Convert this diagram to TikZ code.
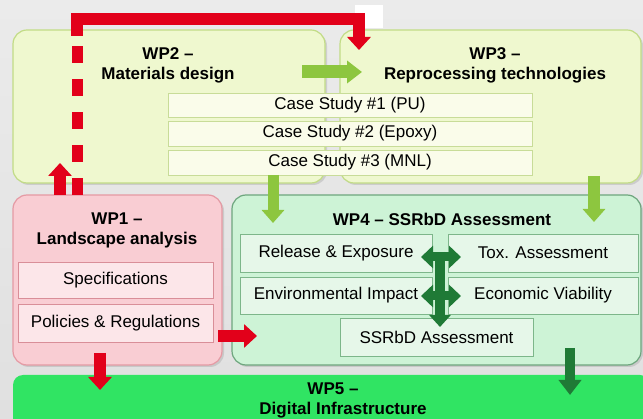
\documentclass[tikz,border=0pt]{standalone}
\usepackage{fontspec}
\setmainfont{Liberation Sans}
\usetikzlibrary{arrows.meta,shadows}
\definecolor{bgtop}{HTML}{EBEBEB}
\definecolor{bgbot}{HTML}{E0E0E0}
\definecolor{ygfill}{HTML}{EFF8CF}
\definecolor{ygdraw}{HTML}{C2DC86}
\definecolor{csfill}{HTML}{FAFCEA}
\definecolor{csdraw}{HTML}{C8DC98}
\definecolor{lgarrow}{HTML}{8DC63F}
\definecolor{redarrow}{HTML}{E2001A}
\definecolor{pkfill}{HTML}{F9CDD3}
\definecolor{pkdraw}{HTML}{E59AA4}
\definecolor{pkinner}{HTML}{FCE6E9}
\definecolor{pkinnerdraw}{HTML}{D98E98}
\definecolor{mtfill}{HTML}{CDF3D6}
\definecolor{mtdraw}{HTML}{6EA67E}
\definecolor{mtinner}{HTML}{E6F7E9}
\definecolor{mtinnerdraw}{HTML}{7DB68A}
\definecolor{dkgreen}{HTML}{1F7A36}
\definecolor{wpfive}{HTML}{30E463}
\begin{document}
\begin{tikzpicture}[x=1pt,y=-1pt,
  every node/.style={inner sep=0pt,outer sep=0pt,font=\fontsize{17}{20}\selectfont},
  bigbox/.style={draw=#1,line width=1.2pt,rounded corners=14pt,
     drop shadow={opacity=0.25,shadow xshift=2pt,shadow yshift=-2pt}},
  cell/.style={draw=#1,line width=0.9pt},
  ttl/.style={align=center,font=\fontsize{17}{20}\selectfont\bfseries},
  thickred/.style={draw=redarrow,line width=12pt},
  redtip/.style={-{Triangle[width=23pt,length=13pt]}},
  lgtip/.style={-{Triangle[width=22pt,length=13pt]}},
  dgtip/.style={-{Triangle[width=21pt,length=12pt]}},
  dgboth/.style={{Triangle[width=22pt,length=12pt]}-{Triangle[width=22pt,length=12pt]}}
]
\useasboundingbox (0,0) rectangle (643,419);
\shade[top color=bgtop,bottom color=bgbot] (0,0) rectangle (643,419);
\fill[white] (355,5) rectangle (383,28);

% WP2 / WP3
\node[bigbox=ygdraw,fill=ygfill,minimum width=312pt,minimum height=153pt] (wp2) at (169,106.5) {};
\node[bigbox=ygdraw,fill=ygfill,minimum width=301pt,minimum height=153pt] (wp3) at (490.5,106.5) {};
\node[ttl] (wp2t) at (168,65) {WP2 --\\Materials design};
\node[ttl] (wp3t) at (495,65) {WP3 --\\Reprocessing technologies};

\node[cell=csdraw,fill=csfill,minimum width=364pt,minimum height=24pt] (cs1) at (350,105) {Case Study \#1 (PU)};
\node[cell=csdraw,fill=csfill,minimum width=364pt,minimum height=25pt] (cs2) at (350,133.5) {Case Study \#2 (Epoxy)};
\node[cell=csdraw,fill=csfill,minimum width=364pt,minimum height=25pt] (cs3) at (350,162.5) {Case Study \#3 (MNL)};

% WP1
\node[bigbox=pkdraw,fill=pkfill,minimum width=209pt,minimum height=170pt] (wp1) at (117.5,280) {};
\node[ttl] (wp1t) at (117,230) {WP1 --\\Landscape analysis};
\node[cell=pkinnerdraw,fill=pkinner,minimum width=195pt,minimum height=36pt] (spec) at (115.5,280) {Specifications};
\node[cell=pkinnerdraw,fill=pkinner,minimum width=195pt,minimum height=38pt] (pol) at (115.5,323) {Policies \& Regulations};

% WP4
\node[bigbox=mtdraw,fill=mtfill,minimum width=409pt,minimum height=170pt] (wp4) at (436.5,280) {};
\node[ttl] (wp4t) at (442,219) {WP4 -- SSRbD Assessment};
\node[cell=mtinnerdraw,fill=mtinner,minimum width=192pt,minimum height=38pt] (rel) at (336,253) {Release \& Exposure};
\node[cell=mtinnerdraw,fill=mtinner,minimum width=190pt,minimum height=38pt] (tox) at (543,253) {Tox. Assessment};
\node[cell=mtinnerdraw,fill=mtinner,minimum width=192pt,minimum height=37pt] (env) at (336,295.5) {Environmental Impact};
\node[cell=mtinnerdraw,fill=mtinner,minimum width=190pt,minimum height=37pt] (eco) at (543,295.5) {Economic Viability};
\node[cell=mtinnerdraw,fill=mtinner,minimum width=193pt,minimum height=38pt] (ssr) at (436.5,337) {SSRbD Assessment};

% WP5
\node[fill=wpfive,rounded corners=10pt,minimum width=637pt,minimum height=65pt] (wp5) at (331.5,407.5) {};
\node[font=\fontsize{17}{20}\selectfont\bfseries] (wp5a) at (333,389) {WP5 --};
\node[font=\fontsize{17}{20}\selectfont\bfseries] (wp5b) at (343,410) {Digital Infrastructure};

% red arrows
\coordinate (dashtop) at (77,35);
\coordinate (corner1) at (77,19);
\coordinate (corner2) at (359,19);
\coordinate (redtip1) at (359,50);
\draw[draw=redarrow,line width=11pt,dash pattern=on 17pt off 16pt] (77,0 |- wp1.north) -- (dashtop);
\draw[draw=redarrow,line width=12pt,miter limit=10,redtip] (77,36) -- (corner1) -- (corner2) -- (redtip1);
\coordinate (upt) at (60,163);
\draw[thickred,redtip] (60,0 |- wp1.north) -- (upt);
\coordinate (rt) at (257,336);
\draw[thickred,redtip] (218,336) -- (rt);
\coordinate (dt) at (100,390);
\draw[thickred,redtip] (100,353) -- (dt);

% light green arrows
\coordinate (g1) at (362,72);
\draw[draw=lgarrow,line width=13pt,-{Triangle[width=22pt,length=15pt]}] (302,72) -- (g1);
\coordinate (g2) at (273,223);
\draw[draw=lgarrow,line width=11pt,lgtip] (273,0 |- cs3.south) -- (g2);
\coordinate (g3) at (594,222);
\draw[draw=lgarrow,line width=12pt,lgtip] (594,176) -- (g3);

% dark green arrows
\coordinate (vtop) at (440,252);
\coordinate (vtip) at (440,327);
\draw[draw=dkgreen,line width=10pt,dgtip] (vtop) -- (vtip);
\coordinate (h1a) at (421,257);
\coordinate (h1b) at (461,257);
\draw[draw=dkgreen,line width=9pt,dgboth] (h1a) -- (h1b);
\coordinate (h2a) at (421,296);
\coordinate (h2b) at (461,296);
\draw[draw=dkgreen,line width=9pt,dgboth] (h2a) -- (h2b);
\coordinate (d4a) at (570,348);
\coordinate (d4b) at (570,395);
\draw[draw=dkgreen,line width=10pt,-{Triangle[width=22pt,length=15pt]}] (d4a) -- (d4b);
\end{tikzpicture}
\end{document}
